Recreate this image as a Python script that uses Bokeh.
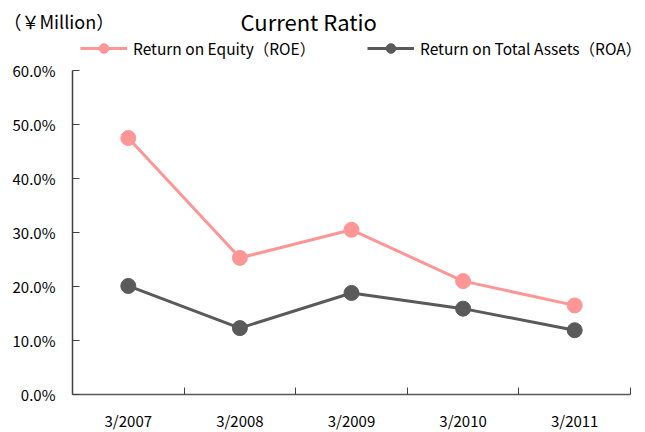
from bokeh.plotting import figure
from bokeh.models import (Range1d, LinearAxis, FixedTicker, PrintfTickFormatter,
                          Label, Legend, LegendItem)
from bokeh.embed import file_html
from bokeh.resources import INLINE

years = ["3/2007", "3/2008", "3/2009", "3/2010", "3/2011"]
roe = [47.5, 25.3, 30.5, 21.0, 16.5]
roa = [20.1, 12.3, 18.8, 15.9, 11.9]
y_ticks = [0, 10, 20, 30, 40, 50, 60]
title_text = "Current Ratio"
unit_text = "（￥Million）"
roe_name = "Return on Equity（ROE）"
roa_name = "Return on Total Assets（ROA）"

FONT = "Noto Sans CJK JP"
ROE_C = "#ff9696"
ROA_C = "#5a5a5a"

n = len(years)
xs = [i + 0.5 for i in range(n)]

# layout (pixels): the frame covers the whole figure; the plotting area sits
# inside it and both axes are pinned at 0 so no text gets clipped
W, H = 645, 432
PLOT_L, PLOT_R, PLOT_T, PLOT_B = 72, 630, 70, 394
xs_per_px = n / (PLOT_R - PLOT_L)
x_lo = -PLOT_L * xs_per_px
x_hi = n + (W - PLOT_R) * xs_per_px
ys_per_px = y_ticks[-1] / (PLOT_B - PLOT_T)
y_lo = -(H - PLOT_B) * ys_per_px
y_hi = y_ticks[-1] + PLOT_T * ys_per_px

p = figure(width=W, height=H, output_backend="svg", toolbar_location=None,
           x_range=Range1d(x_lo, x_hi), y_range=Range1d(y_lo, y_hi),
           x_axis_type=None, y_axis_type=None,
           min_border_left=0, min_border_right=0, min_border_top=0, min_border_bottom=0)
p.outline_line_color = None
p.background_fill_color = "white"

# x axis, pinned at y = 0
xax = LinearAxis(ticker=FixedTicker(ticks=xs, minor_ticks=list(range(n + 1))),
                 bounds=(0, n), fixed_location=0)
xax.major_label_overrides = {x: y for x, y in zip(xs, years)}
xax.major_tick_in = 0
xax.major_tick_out = 0
xax.minor_tick_in = 7
xax.minor_tick_out = 0
xax.minor_tick_line_color = "#404040"
xax.axis_line_color = "#595959"
xax.axis_line_width = 1.5
xax.major_label_standoff = 15
xax.major_label_text_font = FONT
xax.major_label_text_font_size = "15px"
xax.major_label_text_color = "#000000"
p.add_layout(xax, "below")

# y axis, pinned at x = 0
yax = LinearAxis(ticker=FixedTicker(ticks=y_ticks, minor_ticks=[]),
                 formatter=PrintfTickFormatter(format="%.1f%%"),
                 bounds=(y_ticks[0], y_ticks[-1]), fixed_location=0)
yax.major_tick_in = 7
yax.major_tick_out = 0
yax.major_tick_line_color = "#404040"
yax.axis_line_color = "#404040"
yax.axis_line_width = 1.5
yax.major_label_standoff = 17
yax.major_label_text_font = FONT
yax.major_label_text_font_size = "15px"
yax.major_label_text_color = "#000000"
p.add_layout(yax, "left")

p.xgrid.visible = False
p.ygrid.ticker = FixedTicker(ticks=y_ticks)
p.ygrid.grid_line_color = "#d9d9d9"
p.ygrid.grid_line_width = 1.5
p.ygrid.bounds = (y_ticks[0], y_ticks[-1])
try:
    p.ygrid.cross_bounds = (0, n)
except Exception:
    pass

l1 = p.line(xs, roe, line_color=ROE_C, line_width=3)
s1 = p.scatter(xs, roe, size=15, fill_color=ROE_C, line_color=ROE_C)
l2 = p.line(xs, roa, line_color=ROA_C, line_width=3)
s2 = p.scatter(xs, roa, size=15, fill_color=ROA_C, line_color=ROA_C)

def make_legend(label, rs, loc):
    lg = Legend(items=[LegendItem(label=label, renderers=rs)], location=loc,
                orientation="horizontal", glyph_width=47, glyph_height=24,
                label_height=24, label_standoff=6, padding=0, margin=0,
                border_line_color=None, background_fill_alpha=0,
                label_text_font=FONT, label_text_font_size="15.5px",
                label_text_color="#000000")
    return lg

# screen positions are measured up from the bottom of the figure
p.add_layout(make_legend(roe_name, [l1, s1], (80, H - 60)), "center")
p.add_layout(make_legend(roa_name, [l2, s2], (367, H - 60)), "center")

p.add_layout(Label(x=240, y=H - 20, x_units="screen", y_units="screen", text=title_text,
                   text_align="left", text_baseline="middle", text_font=FONT,
                   text_font_size="22px", text_color="#000000"))
p.add_layout(Label(x=3, y=H - 20, x_units="screen", y_units="screen", text=unit_text,
                   text_align="left", text_baseline="middle", text_font=FONT,
                   text_font_size="18px", text_color="#000000"))

open("out.html", "w").write(file_html(p, INLINE))
